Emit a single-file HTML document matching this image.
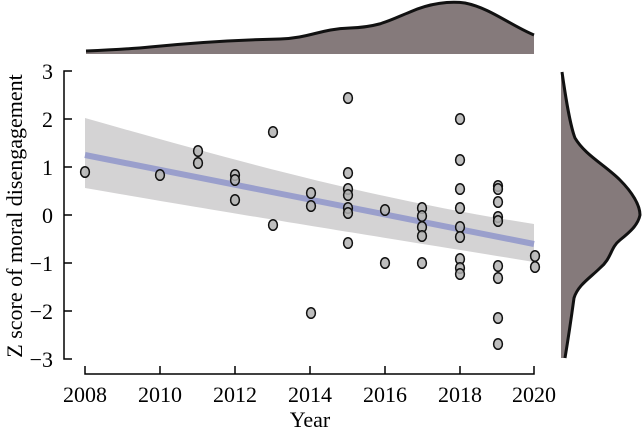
<!DOCTYPE html>
<html><head><meta charset="utf-8"><style>body{margin:0;background:#fff}svg{display:block}text{font-family:"Liberation Serif",serif;fill:#000}</style></head><body>
<svg width="642" height="432" viewBox="0 0 642 432" xmlns="http://www.w3.org/2000/svg">
<path d="M86,54 L86,51 C110,50 130,49 150,47 C190,43 230,40 280,39 C310,38 320,29 350,28 C380,27 390,20 410,12 C430,3 450,1 465,3 C490,8 510,25 534,35 L534,54 Z" fill="#857a7b" stroke="none"/>
<path d="M86,51 C110,50 130,49 150,47 C190,43 230,40 280,39 C310,38 320,29 350,28 C380,27 390,20 410,12 C430,3 450,1 465,3 C490,8 510,25 534,35" fill="none" stroke="#111" stroke-width="3"/>
<path d="M562,72 C566,100 570,125 575,138 C585,155 605,165 620,180 C632,192 640,205 640,215 C638,225 630,232 620,240 C610,248 612,258 600,268 C590,278 578,285 574,298 C571,320 568,340 565,358 L561,358 L561,72 Z" fill="#857a7b"/>
<path d="M562,72 C566,100 570,125 575,138 C585,155 605,165 620,180 C632,192 640,205 640,215 C638,225 630,232 620,240 C610,248 612,258 600,268 C590,278 578,285 574,298 C571,320 568,340 565,358" fill="none" stroke="#111" stroke-width="3"/>
<path d="M85,118 C250,165 380,200 534,224 L534,262 C400,240 300,225 85,188 Z" fill="#d4d3d4"/>
<line x1="85" y1="155" x2="534" y2="244" stroke="#9a9fcc" stroke-width="6"/>
<g fill="#b3b3b3" fill-opacity="0.85" stroke="#111" stroke-width="1.5">
<ellipse cx="85" cy="172" rx="4.4" ry="5.3"/>
<ellipse cx="160" cy="175" rx="4.4" ry="5.3"/>
<ellipse cx="198" cy="151" rx="4.4" ry="5.3"/><ellipse cx="198" cy="163" rx="4.4" ry="5.3"/>
<ellipse cx="235" cy="175" rx="4.4" ry="5.3"/><ellipse cx="235" cy="180" rx="4.4" ry="5.3"/><ellipse cx="235" cy="200" rx="4.4" ry="5.3"/>
<ellipse cx="273" cy="132" rx="4.4" ry="5.3"/><ellipse cx="273" cy="225" rx="4.4" ry="5.3"/>
<ellipse cx="311" cy="193" rx="4.4" ry="5.3"/><ellipse cx="311" cy="206" rx="4.4" ry="5.3"/><ellipse cx="311" cy="313" rx="4.4" ry="5.3"/>
<ellipse cx="348" cy="98" rx="4.4" ry="5.3"/><ellipse cx="348" cy="173" rx="4.4" ry="5.3"/><ellipse cx="348" cy="189" rx="4.4" ry="5.3"/><ellipse cx="348" cy="195" rx="4.4" ry="5.3"/><ellipse cx="348" cy="208" rx="4.4" ry="5.3"/><ellipse cx="348" cy="213" rx="4.4" ry="5.3"/><ellipse cx="348" cy="243" rx="4.4" ry="5.3"/>
<ellipse cx="385" cy="210" rx="4.4" ry="5.3"/><ellipse cx="385" cy="263" rx="4.4" ry="5.3"/>
<ellipse cx="422" cy="208" rx="4.4" ry="5.3"/><ellipse cx="422" cy="216" rx="4.4" ry="5.3"/><ellipse cx="422" cy="227" rx="4.4" ry="5.3"/><ellipse cx="422" cy="236" rx="4.4" ry="5.3"/><ellipse cx="422" cy="263" rx="4.4" ry="5.3"/>
<ellipse cx="460" cy="119" rx="4.4" ry="5.3"/><ellipse cx="460" cy="160" rx="4.4" ry="5.3"/><ellipse cx="460" cy="189" rx="4.4" ry="5.3"/><ellipse cx="460" cy="208" rx="4.4" ry="5.3"/><ellipse cx="460" cy="227" rx="4.4" ry="5.3"/><ellipse cx="460" cy="237" rx="4.4" ry="5.3"/><ellipse cx="460" cy="259" rx="4.4" ry="5.3"/><ellipse cx="460" cy="268" rx="4.4" ry="5.3"/><ellipse cx="460" cy="274" rx="4.4" ry="5.3"/>
<ellipse cx="498" cy="186" rx="4.4" ry="5.3"/><ellipse cx="498" cy="189" rx="4.4" ry="5.3"/><ellipse cx="498" cy="202" rx="4.4" ry="5.3"/><ellipse cx="498" cy="217" rx="4.4" ry="5.3"/><ellipse cx="498" cy="221" rx="4.4" ry="5.3"/><ellipse cx="498" cy="266" rx="4.4" ry="5.3"/><ellipse cx="498" cy="278" rx="4.4" ry="5.3"/><ellipse cx="498" cy="318" rx="4.4" ry="5.3"/><ellipse cx="498" cy="344" rx="4.4" ry="5.3"/>
<ellipse cx="535" cy="256" rx="4.4" ry="5.3"/><ellipse cx="535" cy="267" rx="4.4" ry="5.3"/>
</g>
<g stroke="#000" stroke-width="1.5" fill="none">
<path d="M72,71 H64 V359 H72"/>
<path d="M64,119 H72 M64,167 H72 M64,215 H72 M64,263 H72 M64,311 H72"/>
<path d="M85,366 V374 H534 V366"/>
<path d="M160,366 V374 M235,366 V374 M310,366 V374 M385,366 V374 M460,366 V374"/>
</g>
<g font-size="22" text-anchor="end">
<text x="53" y="79">3</text><text x="53" y="127">2</text><text x="53" y="175">1</text><text x="53" y="223">0</text><text x="53" y="271">−1</text><text x="53" y="319">−2</text><text x="53" y="367">−3</text>
</g>
<g font-size="22" text-anchor="middle">
<text x="85" y="402">2008</text><text x="160" y="402">2010</text><text x="235" y="402">2012</text><text x="310" y="402">2014</text><text x="385" y="402">2016</text><text x="460" y="402">2018</text><text x="534" y="402">2020</text>
<text x="310" y="427" font-size="22">Year</text>
<text transform="translate(22,216) rotate(-90)" font-size="22">Z score of moral disengagement</text>
</g>
</svg>
</body></html>
